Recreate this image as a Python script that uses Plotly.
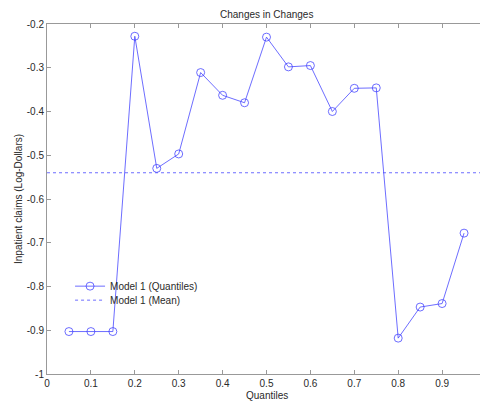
import plotly.graph_objects as go

quantiles = [0.05, 0.10, 0.15, 0.20, 0.25, 0.30, 0.35, 0.40, 0.45, 0.50,
             0.55, 0.60, 0.65, 0.70, 0.75, 0.80, 0.85, 0.90, 0.95]
model1_quantiles = [-0.903, -0.903, -0.903, -0.228, -0.530, -0.497, -0.311, -0.363, -0.380, -0.230,
                    -0.298, -0.295, -0.400, -0.347, -0.346, -0.918, -0.847, -0.839, -0.678]
model1_mean = -0.540
x_range = [0, 1]
y_range = [-1, -0.2]
x_ticks = [0, 0.1, 0.2, 0.3, 0.4, 0.5, 0.6, 0.7, 0.8, 0.9, 1]
y_ticks = [-1, -0.9, -0.8, -0.7, -0.6, -0.5, -0.4, -0.3, -0.2]

line_color = "rgba(60,60,255,0.75)"
font_family = "Liberation Sans, Arial, sans-serif"
text_color = "#2a2a2a"

fig = go.Figure()
fig.add_trace(go.Scatter(
    x=quantiles, y=model1_quantiles, mode="lines+markers",
    name="Model 1 (Quantiles)", legend="legend",
    line=dict(color=line_color, width=1),
    marker=dict(symbol="circle-open", size=8, color=line_color, line=dict(width=1)),
))
fig.add_trace(go.Scatter(
    x=x_range, y=[model1_mean, model1_mean], mode="lines",
    name="Model 1 (Mean)", legend="legend2",
    line=dict(color=line_color, width=1, dash="dot"),
))

axis_common = dict(
    showgrid=False, zeroline=False, showline=True, linecolor="#999999", linewidth=1,
    mirror="allticks", ticks="inside", ticklen=4, tickcolor="#999999", automargin=False,
    tickfont=dict(size=10, color=text_color, family=font_family),
)
legend_common = dict(xanchor="left", yanchor="middle", bgcolor="rgba(0,0,0,0)",
                     font=dict(size=10, color=text_color), itemwidth=30, borderwidth=0)
fig.update_layout(
    width=480, height=395,
    margin=dict(l=39, r=2, t=16, b=29, autoexpand=False),
    paper_bgcolor="white", plot_bgcolor="white",
    font=dict(family=font_family, size=10, color=text_color),
    xaxis=dict(range=x_range, tickvals=x_ticks, ticktext=[f"{v:g}" for v in x_ticks], **axis_common),
    yaxis=dict(range=y_range, tickvals=y_ticks, ticktext=[f"{v:g}" for v in y_ticks], **axis_common),
    legend=dict(x=0.0525, y=0.251, **legend_common),
    legend2=dict(x=0.0525, y=0.211, **legend_common),
    showlegend=True,
    annotations=[
        dict(text="Changes in Changes", xref="paper", yref="paper", x=0.5, y=1,
             xanchor="center", yanchor="bottom", yshift=2, showarrow=False, font=dict(size=10)),
        dict(text="Quantiles", xref="paper", yref="paper", x=0.5, y=0,
             xanchor="center", yanchor="top", yshift=-14, showarrow=False, font=dict(size=10)),
        dict(text="Inpatient claims (Log-Dollars)", xref="paper", yref="paper", x=0, y=0.5,
             xanchor="center", yanchor="middle", xshift=-29, textangle=-90, showarrow=False,
             font=dict(size=10)),
    ],
)
fig.write_html("out.html")
